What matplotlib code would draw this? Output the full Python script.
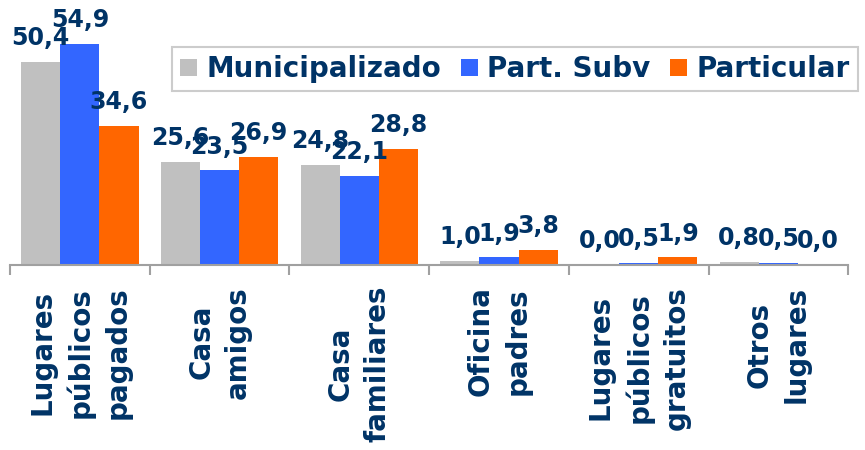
import matplotlib.pyplot as plt
import numpy as np

categories = ["Lugares\npúblicos\npagados", "Casa\namigos", "Casa\nfamiliares",
              "Oficina\npadres", "Lugares\npúblicos\ngratuitos", "Otros\nlugares"]
series_names = ["Municipalizado", "Part. Subv", "Particular"]
municipalizado = [50.4, 25.6, 24.8, 1.0, 0.0, 0.8]
part_subv = [54.9, 23.5, 22.1, 1.9, 0.5, 0.5]
particular = [34.6, 26.9, 28.8, 3.8, 1.9, 0.0]

colors = ["#C0C0C0", "#3366FF", "#FF6600"]
text_color = "#003366"

fig = plt.figure(figsize=(8.65, 4.5), dpi=100)
ax = fig.add_axes([0.0116, 0.411, 0.969, 0.589])

x = np.arange(len(categories))
width = 0.28
for i, (vals, name) in enumerate(zip([municipalizado, part_subv, particular], series_names)):
    pos = x + (i - 1) * width
    ax.bar(pos, vals, width, color=colors[i], label=name)
    for xp, v in zip(pos, vals):
        ax.annotate(f"{v:.1f}".replace(".", ","), (xp, v), xytext=(0, 12),
                    textcoords="offset points", ha="center", va="baseline",
                    fontsize=17, fontweight="bold", color=text_color)

ax.set_xlim(-0.5, len(categories) - 0.5)
ax.set_ylim(0, 65.8)
for s in ["top", "right", "left"]:
    ax.spines[s].set_visible(False)
ax.spines["bottom"].set_color("#A0A0A0")
ax.spines["bottom"].set_linewidth(1.5)
ax.set_yticks([])

# category boundaries get the tick marks, centres get the labels
ax.set_xticks(np.arange(len(categories) + 1) - 0.5)
ax.set_xticklabels([])
ax.tick_params(axis="x", which="major", length=7, width=1.5, color="#A0A0A0", direction="out")
ax.set_xticks(x, minor=True)
ax.set_xticklabels(categories, minor=True, rotation=90, fontsize=20, fontweight="bold",
                   color=text_color, va="top", ha="center", multialignment="center",
                   linespacing=1.4)
ax.tick_params(axis="x", which="minor", length=0, pad=15)

leg = fig.legend(loc="upper right", bbox_to_anchor=(0.992, 0.896), ncol=3,
                 prop={"size": 20, "weight": "bold"}, frameon=True, fancybox=False,
                 handlelength=0.6, handleheight=0.6, handletextpad=0.35, columnspacing=0.7,
                 borderpad=0.3, borderaxespad=0)
leg.get_frame().set_edgecolor("#C0C0C0")
leg.get_frame().set_linewidth(1.5)
for t in leg.get_texts():
    t.set_color(text_color)

fig.savefig("out.png", dpi=100, facecolor="white")
